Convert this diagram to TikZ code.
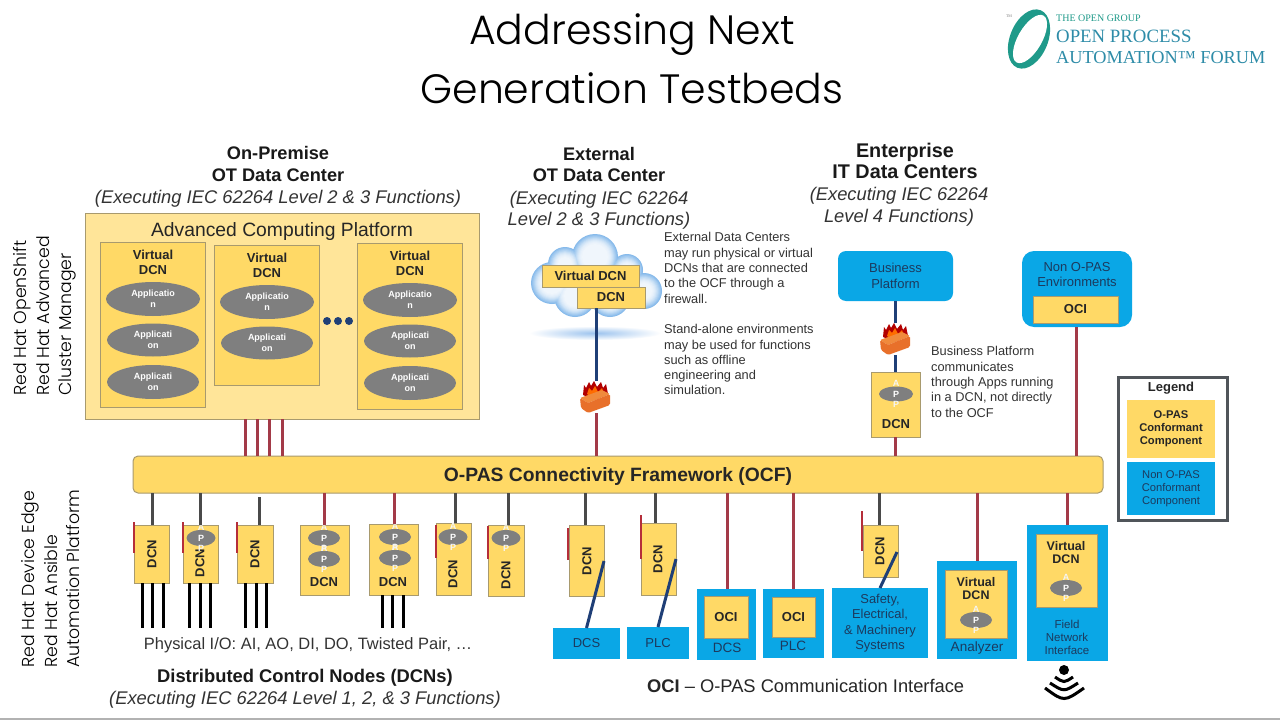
\documentclass[tikz,border=0pt]{standalone}
\usepackage{fontspec}
\setmainfont{Liberation Sans}
\newfontfamily\titlefont{Poppins Light}
\newfontfamily\sidefont{Poppins Light}
\newfontfamily\logofont{Liberation Serif}
\usetikzlibrary{shapes.geometric,calc,shadings,fadings}
\definecolor{opas}{HTML}{FFD966}
\definecolor{opaslight}{HTML}{FFE599}
\definecolor{opasedge}{HTML}{A89A6E}
\definecolor{nonopas}{HTML}{0AA7E6}
\definecolor{navy}{HTML}{1F3F77}
\definecolor{navytext}{HTML}{1C3A5E}
\definecolor{redline}{HTML}{A33A48}
\definecolor{greyline}{HTML}{4A4A4A}
\definecolor{appgrey}{HTML}{7F7F7F}
\definecolor{bodytext}{HTML}{333333}
\definecolor{logoteal}{HTML}{1F9A8A}
\definecolor{logoblue}{HTML}{2E8CA8}
\definecolor{fwfront}{HTML}{E8702A}
\definecolor{fwtop}{HTML}{F08A3C}
\definecolor{legendedge}{HTML}{50555A}
\definecolor{cloudedge}{HTML}{86BAEB}
\definecolor{cloudmid}{HTML}{F0F6FC}
\definecolor{glow}{HTML}{9CC3EE}
\tikzset{
  opasbox/.style={draw=opasedge,line width=1pt,fill=opas,inner sep=0pt,outer sep=0pt,align=center,font=\fontsize{13}{15}\selectfont\bfseries,text=black!85},
  platebox/.style={draw=opasedge,line width=1pt,fill=opaslight,inner sep=0pt,outer sep=0pt},
  bluebox/.style={fill=nonopas,inner sep=0pt,outer sep=0pt,align=center,text=navytext},
  appell/.style={ellipse,fill=appgrey,inner sep=0pt,outer sep=0pt,text=white,align=center,font=\fontsize{9}{10.8}\selectfont\bfseries},
  redlink/.style={draw=redline,line width=3pt},
  greylink/.style={draw=greyline,line width=3pt},
  navylink/.style={draw=navy,line width=3pt},
  wire/.style={draw=black,line width=3pt},
  redstub/.style={draw=redline!80!red,line width=2pt},
  line1/.style={inner sep=0pt,text height=13pt,text depth=0pt},
  headb/.style={line1,font=\fontsize{18.2}{18.2}\selectfont\bfseries,text=black!90},
  headbig/.style={line1,font=\fontsize{19.8}{19.8}\selectfont\bfseries,text=black!90},
  headi/.style={line1,font=\fontsize{18.35}{18.35}\selectfont\itshape,text=black!80},
  note/.style={font=\fontsize{12.8}{15.3}\selectfont,text=bodytext,anchor=north west,align=left,inner sep=0pt},
  sidetext/.style={font=\fontsize{17.3}{22.5}\selectfont\sidefont,rotate=90,align=left,text=black,inner sep=0pt},
  bluetxt/.style={text=navytext,inner sep=0pt,align=center},
}
% name, x1,y1,x2,y2, style, text
\newcommand\rbox[7]{\node[#6,minimum width={(#4-#2)*1pt},minimum height={(#5-#3)*1pt}] (#1) at ({(#2+#4)/2},{(#3+#5)/2}) {#7};}
% style, upper node, lower node, x, gap at upper end
\newcommand\vlink[5]{\coordinate (vtmp) at (#4,0); \draw[#1] ([yshift=-#5pt]#2.south -| vtmp) -- (#3.north -| vtmp);}
\newcommand\app[5]{\node[appell,minimum width=#4pt,minimum height=#5pt] (#1) at (#2,#3) {};
  \node[font=\fontsize{9}{9}\selectfont\bfseries,text=white!92!appgrey] at (#2,#3-10.5) {A};
  \node[font=\fontsize{9}{9}\selectfont\bfseries,text=white] at (#2,#3) {P};
  \node[font=\fontsize{9}{9}\selectfont\bfseries,text=white!92!appgrey] at (#2,#3+10.5) {P};}
\newcommand\firewall[3]{%
  \node[inner sep=0pt,minimum width=30pt,minimum height=32pt] (#1) at (#2,#3) {};
  \begin{scope}[shift={(#2,#3)}]
    \fill[red!70!black] (-12,-2) -- (-11,-12) -- (-9,-9) -- (-6,-15) -- (-4,-11) -- (-1,-16) -- (2,-10) -- (6,-15) -- (8,-9) -- (11,-13) -- (13,-3) -- (0,3) -- cycle;
    \fill[orange!85!red] (-8,-3) -- (-6,-9) -- (-3,-6) -- (0,-11) -- (3,-5) -- (7,-9) -- (9,-3) -- (0,2) -- cycle;
    \fill[fwtop,rounded corners=1pt] (-15,1) -- (7,-7) -- (15,-3) -- (-7,6) -- cycle;
    \fill[fwfront,rounded corners=1.5pt] (-15,1) -- (-7,6) -- (15,-3) -- (15,8) -- (-7,16) -- (-14,11) -- cycle;
  \end{scope}}
\begin{document}
\begin{tikzpicture}[x=1pt,y=-1pt]
\useasboundingbox (0,0) rectangle (1280,720);
\fill[white] (0,0) rectangle (1280,720);
% title
\node[font=\fontsize{41}{41}\selectfont\titlefont,text=black] (title1) at (632,35) {Addressing Next};
\node[font=\fontsize{41}{41}\selectfont\titlefont,text=black] (title2) at (632,88) {Generation Testbeds};
% logo
\begin{scope}[shift={(1029,39)},rotate=-22]
 \fill[logoteal] (0,0) ellipse [x radius=19,y radius=31];
\end{scope}
\begin{scope}[shift={(1030,39)},rotate=-30]
 \fill[white] (0,0) ellipse [x radius=12,y radius=27];
\end{scope}
\node[font=\fontsize{4}{4}\selectfont\logofont,text=gray] (logotm) at (1009,16) {TM};
\node[anchor=west,inner sep=0pt,font=\fontsize{10}{10}\selectfont\logofont,text=logoteal] (logo1) at (1056,18) {THE OPEN GROUP};
\node[anchor=west,inner sep=0pt,font=\fontsize{18.8}{18.8}\selectfont\logofont,text=logoblue] (logo2) at (1056,36) {OPEN PROCESS};
\node[anchor=west,inner sep=0pt,font=\fontsize{18.3}{18.3}\selectfont\logofont,text=logoblue] (logo3) at (1056,58) {AUTOMATION™ FORUM};
% side texts
\node[sidetext,anchor=west] (side1) at (45,396) {Red Hat OpenShift\\Red Hat Advanced\\Cluster Manager};
\node[sidetext,anchor=west] (side2) at (51,668) {Red Hat Device Edge\\Red Hat Ansible\\Automation Platform};
% headings
\node[headb] (h1a) at (278,153) {On-Premise};
\node[headb] (h1b) at (278,174.5) {OT Data Center};
\node[headi] (h1c) at (278,197) {(Executing IEC 62264 Level 2 \& 3 Functions)};
\node[headb] (h2a) at (599,153.5) {External};
\node[headb] (h2b) at (599,175) {OT Data Center};
\node[headi] (h2c) at (599,198) {(Executing IEC 62264};
\node[headi] (h2d) at (599,219) {Level 2 \& 3 Functions)};
\node[headbig] (h3a) at (905,151) {Enterprise};
\node[headbig] (h3b) at (905,172) {IT Data Centers};
\node[headi] (h3c) at (899,194) {(Executing IEC 62264};
\node[headi] (h3d) at (899,216) {Level 4 Functions)};
% advanced computing platform
\rbox{acp}{85}{213}{479}{419}{platebox}{}
\node[inner sep=0pt,text height=13.5pt,text depth=0pt,font=\fontsize{19.3}{19.3}\selectfont,text=black!85] (acpt) at (282,230) {Advanced Computing Platform};
\rbox{v1}{100}{242}{205}{407}{opasbox}{}
\rbox{v2}{214}{245}{319}{385}{opasbox}{}
\rbox{v3}{357}{243}{462}{409}{opasbox}{}
\node[opasbox,draw=none,fill=none] (v1t) at (153,262) {Virtual\\DCN};
\node[opasbox,draw=none,fill=none] (v2t) at (267,265) {Virtual\\DCN};
\node[opasbox,draw=none,fill=none] (v3t) at (410,263) {Virtual\\DCN};
\node[appell,minimum width=94pt,minimum height=34pt] (a11) at (153,299) {Applicatio\\n};
\node[appell,minimum width=92pt,minimum height=33pt] (a12) at (153,340) {Applicati\\on};
\node[appell,minimum width=92pt,minimum height=34pt] (a13) at (153,382) {Applicati\\on};
\node[appell,minimum width=94pt,minimum height=34pt] (a21) at (267,302) {Applicatio\\n};
\node[appell,minimum width=92pt,minimum height=33pt] (a22) at (267,343) {Applicati\\on};
\node[appell,minimum width=94pt,minimum height=34pt] (a31) at (410,300) {Applicatio\\n};
\node[appell,minimum width=92pt,minimum height=33pt] (a32) at (410,341) {Applicati\\on};
\node[appell,minimum width=92pt,minimum height=34pt] (a33) at (410,383) {Applicati\\on};
\fill[navy] (327,321) circle [radius=4] (338,321) circle [radius=4] (349,321) circle [radius=4];
% OCF
\node[draw=opasedge,line width=1pt,fill=opas,rounded corners=5pt,minimum width=970pt,minimum height=37pt,inner sep=0pt,outer sep=0pt,text height=14pt,text depth=0pt,font=\fontsize{19.3}{19.3}\selectfont\bfseries,text=black!85] (ocf) at (618,474.5) {O-PAS Connectivity Framework (OCF)};
\foreach \x in {245,257,269,282} {\coordinate (vtmp) at (\x,0); \draw[redlink] (acp.south -| vtmp) -- (ocf.north -| vtmp);}
% cloud
\shade[inner color=glow,outer color=white] (595,333) ellipse [x radius=66,y radius=7];
\foreach \d/\m in {0/0,1/14,2/28,3/42,4/56,5/68,6/78,7/86,8/92,9/96,10/100} {
  \fill[cloudmid!\m!cloudedge]
    (595,257) circle [radius={23-\d}]
    (565,264) circle [radius={17-\d}]
    (552,283) circle [radius={21-\d}]
    (575,296) circle [radius={21-\d}]
    (610,297) circle [radius={20-\d}]
    (627,270) circle [radius={16-\d}]
    (644,291) circle [radius={18-\d}]
    (595,280) circle [radius={24-\d}];
}
\rbox{cv}{542}{265}{639}{287}{opasbox}{Virtual DCN}
\rbox{cd}{577}{287}{645}{308}{opasbox}{DCN}
\firewall{fw1}{595}{397}
\vlink{navylink}{cd}{fw1}{596}{0}
\vlink{redlink}{fw1}{ocf}{596}{0}
\node[note] (n1) at (664,232.5) {External Data Centers\\may run physical or virtual\\DCNs that are connected\\to the OCF through a\\firewall.\\[15.3pt]Stand-alone environments\\may be used for functions\\such as offline\\engineering and\\simulation.};
% business
\rbox{bp}{838}{251}{953}{301}{bluebox,rounded corners=8pt,font=\fontsize{13}{15.3}\selectfont}{Business\\Platform}
\firewall{fw2}{895}{339}
\rbox{bd}{871}{372}{920}{437}{opasbox}{}
\app{bda}{896}{394}{34}{15}
\node[opasbox,draw=none,fill=none] (bdt) at (896,424) {DCN};
\vlink{navylink}{bp}{fw2}{895}{0}
\vlink{navylink}{fw2}{bd}{895}{0}
\vlink{redlink}{bd}{ocf}{895}{0}
\node[note] (n2) at (931,346.5) {Business Platform\\communicates\\through Apps running\\in a DCN, not directly\\to the OCF};
% non o-pas
\rbox{ne}{1022}{251}{1132}{327}{bluebox,rounded corners=12pt}{}
\node[bluetxt,font=\fontsize{13}{15.3}\selectfont] (net) at (1077,274.5) {Non O-PAS\\Environments};
\rbox{noci}{1033}{296}{1118}{323}{opasbox}{OCI}
\vlink{redlink}{ne}{ocf}{1076}{0}
% legend
\rbox{leg}{1118}{377}{1227}{520}{draw=legendedge,line width=3pt,fill=white,inner sep=0pt,outer sep=0pt}{}
\node[font=\fontsize{13}{13}\selectfont\bfseries,text=black!85] (legt) at (1171,388) {Legend};
\rbox{lo}{1127}{400}{1215}{458}{fill=opas,inner sep=0pt,align=center,font=\fontsize{11.2}{13}\selectfont\bfseries,text=black!85}{O-PAS\\Conformant\\Component}
\rbox{ln}{1127}{462}{1215}{515}{bluebox,font=\fontsize{11.2}{13}\selectfont}{Non O-PAS\\Conformant\\Component}
% lower DCNs
\rbox{d1}{134}{525}{169}{583}{opasbox}{}
\node[opasbox,draw=none,fill=none,rotate=90] (d1t) at (152,554) {DCN};
\rbox{d2}{183}{525}{218}{583}{opasbox}{}
\node[opasbox,draw=none,fill=none,rotate=90] (d2t) at (200,563) {DCN};
\app{d2a}{201}{538}{29}{16}
\rbox{d3}{237}{525}{273}{583}{opasbox}{}
\node[opasbox,draw=none,fill=none,rotate=90] (d3t) at (255,554) {DCN};
\rbox{d4}{300}{525}{349}{595}{opasbox}{}
\app{d4a}{324}{538}{32}{16}
\app{d4b}{324}{559}{32}{16}
\node[opasbox,draw=none,fill=none] (d4t) at (324,582) {DCN};
\rbox{d5}{369}{524}{418}{595}{opasbox}{}
\app{d5a}{395}{537}{32}{16}
\app{d5b}{395}{558}{32}{16}
\node[opasbox,draw=none,fill=none] (d5t) at (393,582) {DCN};
\rbox{d6}{436}{523}{471}{595}{opasbox}{}
\app{d6a}{453}{537}{29}{16}
\node[opasbox,draw=none,fill=none,rotate=90] (d6t) at (453,574) {DCN};
\rbox{d7}{488}{525}{524}{596}{opasbox}{}
\app{d7a}{506}{538}{29}{16}
\node[opasbox,draw=none,fill=none,rotate=90] (d7t) at (506,575) {DCN};
\rbox{d8}{569}{525}{604}{596}{opasbox}{}
\node[opasbox,draw=none,fill=none,rotate=90] (d8t) at (587,561) {DCN};
\rbox{d9}{641}{523}{676}{595}{opasbox}{}
\node[opasbox,draw=none,fill=none,rotate=90] (d9t) at (658,559) {DCN};
\rbox{d10}{863}{525}{898}{577}{opasbox}{}
\node[opasbox,draw=none,fill=none,rotate=90] (d10t) at (880,551) {DCN};
\vlink{greylink}{ocf}{d1}{152}{0}
\vlink{greylink}{ocf}{d2}{200}{0}
\vlink{greylink}{ocf}{d3}{259}{4}
\vlink{redlink}{ocf}{d4}{324}{0}
\vlink{redlink}{ocf}{d5}{394}{0}
\vlink{greylink}{ocf}{d6}{455}{0}
\vlink{greylink}{ocf}{d7}{508}{0}
\vlink{greylink}{ocf}{d8}{585}{0}
\vlink{greylink}{ocf}{d9}{655}{0}
\vlink{greylink}{ocf}{d10}{879}{0}
\draw[redstub] (134,522) -- (134,553);
\draw[redstub] (183,522) -- (183,553);
\draw[redstub] (237,522) -- (237,553);
\draw[redstub] (436,525) -- (436,558);
\draw[redstub] (488,526) -- (488,559);
\draw[redstub] (568,528) -- (568,560);
\draw[redstub] (641,515) -- (641,559);
\draw[redstub] (862,511) -- (862,551);
% wires
\node[inner sep=0pt,text height=11.5pt,text depth=0pt,font=\fontsize{16.45}{16.45}\selectfont,text=bodytext] (phys) at (308,643.5) {Physical I/O: AI, AO, DI, DO, Twisted Pair, …};
\foreach \n/\x in {d1/142,d1/152,d1/163,d2/189,d2/200,d2/210,d3/245,d3/256,d3/266,d5/382,d5/392,d5/403} {
  \coordinate (vtmp) at (\x,628);
  \draw[wire] (\n.south -| vtmp) -- (vtmp);
}
\node[headb,font=\fontsize{18.35}{18.35}\selectfont\bfseries] (dcnh) at (305,675.5) {Distributed Control Nodes (DCNs)};
\node[headi] (dcni) at (305,697.5) {(Executing IEC 62264 Level 1, 2, \& 3 Functions)};
% blue devices
\rbox{dcs}{553}{628}{620}{659}{bluebox,font=\fontsize{13}{15}\selectfont}{DCS}
\rbox{plc}{627}{627}{689}{659}{bluebox,font=\fontsize{13}{15}\selectfont}{PLC}
\coordinate (d8b) at (604,561);
\coordinate (d9b) at (676,559);
\coordinate (d10b) at (897,552);
\draw[navylink] (d8b) -- (dcs.north);
\draw[navylink] (d9b) -- (plc.north);
\rbox{oc1}{697}{589}{756}{660}{bluebox}{}
\rbox{oc1i}{704}{596}{748}{638}{opasbox}{OCI}
\node[bluetxt,font=\fontsize{13.5}{15}\selectfont] (oc1t) at (727,648) {DCS};
\rbox{oc2}{763}{589}{824}{658}{bluebox}{}
\rbox{oc2i}{772}{597}{815}{637}{opasbox}{OCI}
\node[bluetxt,font=\fontsize{13.5}{15}\selectfont] (oc2t) at (793,646) {PLC};
\vlink{redlink}{ocf}{oc1}{727}{0}
\vlink{redlink}{ocf}{oc2}{793}{0}
\rbox{saf}{832}{588}{928}{658}{bluebox,font=\fontsize{12.9}{15.5}\selectfont}{Safety,\\Electrical,\\\& Machinery\\Systems}
\draw[navylink] (d10b) -- (saf.north);
\rbox{ana}{937}{561}{1017}{659}{bluebox}{}
\rbox{anai}{945}{570}{1007}{638}{opasbox}{}
\node[opasbox,draw=none,fill=none,font=\fontsize{12.5}{13}\selectfont\bfseries] (anat) at (976,588.5) {Virtual\\DCN};
\app{anaa}{976}{620}{32}{16}
\node[bluetxt,font=\fontsize{13.5}{15}\selectfont] (anal) at (977,648) {Analyzer};
\vlink{redlink}{ocf}{ana}{977}{0}
\rbox{fld}{1027}{525}{1108}{661}{bluebox}{}
\rbox{fldi}{1036}{534}{1097}{607}{opasbox}{}
\node[opasbox,draw=none,fill=none,font=\fontsize{12.5}{13}\selectfont\bfseries] (fldt) at (1066,552.5) {Virtual\\DCN};
\app{flda}{1066}{588}{32}{16}
\node[bluetxt,font=\fontsize{11.5}{13}\selectfont] (fldl) at (1067,637) {Field\\Network\\Interface};
\vlink{redlink}{ocf}{fld}{1067}{0}
\node[anchor=west,inner sep=0pt,text height=12.5pt,text depth=0pt,font=\fontsize{18.3}{18.3}\selectfont,text=black!85] (ocin) at (647,686) {\textbf{OCI} – O-PAS Communication Interface};
% wifi
\fill[black] (1064,670) circle [radius=5];
\draw[black,line width=3pt] (1055,677) .. controls (1064,683) .. (1073,677);
\draw[black,line width=3pt] (1050,683) .. controls (1064,692) .. (1078,683);
\draw[black,line width=3pt] (1045,688) .. controls (1064,702) .. (1084,688);
% bottom rule
\draw[black!30,line width=1.5pt] (0,719) -- (1280,719);
\end{tikzpicture}
\end{document}
